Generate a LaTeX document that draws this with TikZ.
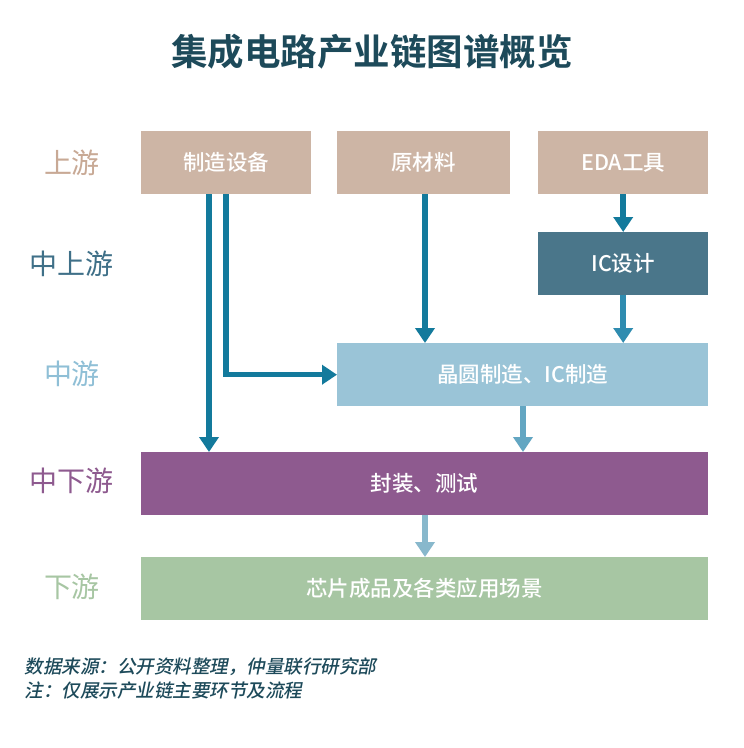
\documentclass[tikz,border=0pt]{standalone}
\usepackage{fontspec}
\setmainfont{Noto Sans CJK SC}
\newfontfamily\cjk{Noto Sans CJK SC}
\newfontfamily\cjkm{Noto Sans CJK SC Medium}
\newfontfamily\cjkb{Noto Sans CJK SC Bold}
\newfontfamily\cjkit[FakeSlant=0.2]{Noto Sans CJK SC Medium}
\usetikzlibrary{arrows.meta}
\definecolor{titlec}{HTML}{1D4A5A}
\definecolor{upc}{HTML}{CDB5A5}
\definecolor{upl}{HTML}{C8A995}
\definecolor{icc}{HTML}{4A768A}
\definecolor{icl}{HTML}{3F7088}
\definecolor{midc}{HTML}{9AC4D7}
\definecolor{midl}{HTML}{8FBFD6}
\definecolor{pkc}{HTML}{8E5A8F}
\definecolor{dnc}{HTML}{A7C6A3}
\definecolor{arr}{HTML}{137A9C}
\definecolor{arr2}{HTML}{2F8CB0}
\definecolor{arr3}{HTML}{63A6C2}
\definecolor{arr4}{HTML}{88B8CC}
\begin{document}
\begin{tikzpicture}[x=1pt,y=-1pt,
  box/.style={minimum height=63pt,inner sep=0pt,text=white,font=\fontsize{21.5}{26}\selectfont\cjkm,anchor=north west},
  lvl/.style={font=\fontsize{28}{33}\selectfont\cjk},
  flow/.style={line width=5.5pt,-{Triangle[length=15pt,width=19pt]}}]
\useasboundingbox[fill=white] (0,0) rectangle (744,748);
\node[font=\fontsize{36.5}{42}\selectfont\cjkb,text=titlec] (title) at (372,52) {集成电路产业链图谱概览};
% boxes
\node[box,fill=upc,minimum width=170pt] (equip) at (141,131) {制造设备};
\node[box,fill=upc,minimum width=173pt] (mat) at (337,131) {原材料};
\node[box,fill=upc,minimum width=170pt] (eda) at (538,131) {EDA工具};
\node[box,fill=icc,minimum width=170pt] (icd) at (538,232) {IC设计};
\node[box,fill=midc,minimum width=371pt] (fab) at (337,343) {晶圆制造、IC制造};
\node[box,fill=pkc,minimum width=567pt] (pkg) at (141,452) {封装、测试};
\node[box,fill=dnc,minimum width=567pt] (app) at (141,557) {芯片成品及各类应用场景};
% level labels
\node[lvl,text=upl] (l1) at (72,163) {上游};
\node[lvl,text=icl] (l2) at (72,264) {中上游};
\node[lvl,text=midl] (l3) at (72,374) {中游};
\node[lvl,text=pkc] (l4) at (72,481) {中下游};
\node[lvl,text=dnc] (l5) at (72,587) {下游};
% arrows
\draw[flow,arr] (equip.south west) ++(68,0) coordinate (e1) -- (e1 |- pkg.north);
\draw[flow,arr] (equip.south west) ++(85,0) coordinate (e2) -- (e2 |- fab.west) -- (fab.west);
\draw[flow,arr] (mat.south west) ++(88,0) coordinate (m1) -- (m1 |- fab.north);
\draw[flow,arr] (eda.south) -- (icd.north);
\draw[flow,arr2] (icd.south) -- (icd.south |- fab.north);
\draw[flow,arr3] (fab.south west) ++(186,0) coordinate (f1) -- (f1 |- pkg.north);
\draw[flow,arr4] (pkg.south west) ++(284,0) coordinate (p1) -- (p1 |- app.north);
% footer
\node[anchor=west,font=\fontsize{18.5}{22}\selectfont\cjkit,text=titlec] (src) at (21,667) {数据来源：公开资料整理，仲量联行研究部};
\node[anchor=west,font=\fontsize{18.5}{22}\selectfont\cjkit,text=titlec] (note) at (21,691) {注：仅展示产业链主要环节及流程};
\end{tikzpicture}
\end{document}
